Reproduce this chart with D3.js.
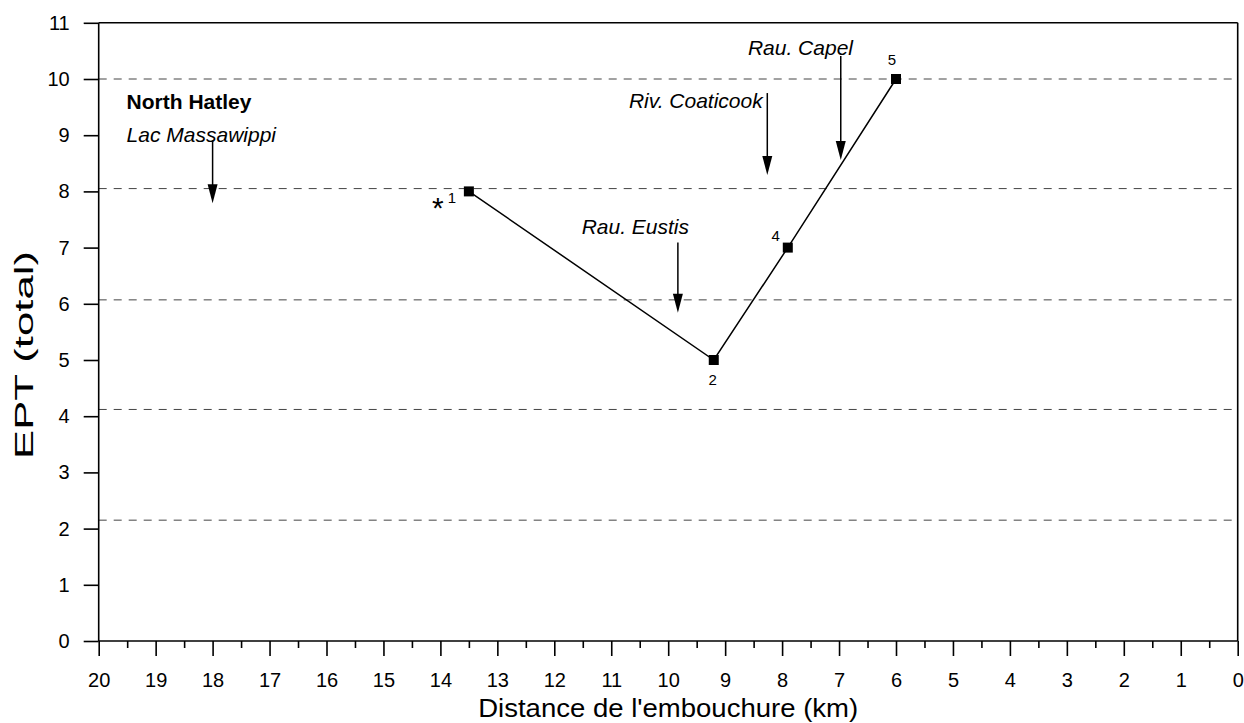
<!DOCTYPE html>
<html>
<head>
<meta charset="utf-8">
<script src="https://cdn.jsdelivr.net/npm/d3@7"></script>
<style>
  html, body { margin: 0; padding: 0; background: #fff; }
  svg { display: block; font-family: "Liberation Sans", Arial, Helvetica, sans-serif; }
</style>
</head>
<body>
<svg id="chart" width="1244" height="723"></svg>
<script>
// ---- data ----
const stations = ["1", "2", "4", "5"];
const distances = [13.5, 9.2, 7.9, 6.0];
const eptValues = [8, 5, 7, 10];

const xMajorTicks = d3.range(0, 21, 1);
const xMinorTicks = d3.range(0.5, 20, 1);
const yTicks = d3.range(0, 12, 1);
const gridValues = [10, 8.05, 6.07, 4.12, 2.15];

const tribNames = ["Lac Massawippi", "Rau. Eustis", "Riv. Coaticook", "Rau. Capel"];
const tribLabelX = [19.51, 11.52, 10.69, 8.60];
const tribLabelY = [8.88, 7.24, 9.48, 10.43];
const tribArrowX = [18.0, 9.83, 8.26, 6.97];
const tribArrowTop = [8.91, 7.09, 9.75, 10.41];
const tribArrowTip = [7.79, 5.84, 8.29, 8.56];

const townName = "North Hatley";
const townX = 19.51, townY = 9.46;

const xTitle = "Distance de l'embouchure (km)";
const yTitle = "EPT (total)";

// ---- scales ----
const svg = d3.select("#chart");
const x = d3.scaleLinear().domain([20, 0]).range([98.7, 1237.7]);
const y = d3.scaleLinear().domain([0, 11]).range([641, 22.8]);

// grid lines (dashed)
svg.append("g").selectAll("line").data(gridValues).join("line")
  .attr("x1", x(20)).attr("x2", x(0))
  .attr("y1", d => y(d)).attr("y2", d => y(d))
  .attr("stroke", "#444").attr("stroke-width", 1)
  .attr("stroke-dasharray", "8,7");

// axes
const xAxis = svg.append("g").attr("transform", `translate(0,${y(0)})`)
  .call(d3.axisBottom(x).tickValues(xMajorTicks).tickSize(15).tickSizeOuter(0)
    .tickPadding(17).tickFormat(d3.format("d")));
const xMinor = svg.append("g").attr("transform", `translate(0,${y(0)})`)
  .call(d3.axisBottom(x).tickValues(xMinorTicks).tickSize(7).tickSizeOuter(0).tickFormat(""));
const yAxis = svg.append("g").attr("transform", `translate(${x(20)},0)`)
  .call(d3.axisLeft(y).tickValues(yTicks).tickSize(15).tickSizeOuter(0)
    .tickPadding(14).tickFormat(d3.format("d")));

[xAxis, xMinor, yAxis].forEach(g => {
  g.select(".domain").remove();
  g.selectAll("line").attr("stroke", "#000").attr("stroke-width", 1.6);
  g.selectAll("text").attr("fill", "#000").style("font-size", "20px")
    .style("font-family", "'Liberation Sans', Arial, sans-serif");
});

// frame lines
const frame = svg.append("g").attr("stroke", "#000").attr("stroke-width", 1.6).attr("fill", "none");
frame.append("line").attr("x1", x(20)).attr("x2", x(0)).attr("y1", y(0)).attr("y2", y(0));
frame.append("line").attr("x1", x(20)).attr("x2", x(0)).attr("y1", y(11)).attr("y2", y(11));
frame.append("line").attr("x1", x(20)).attr("x2", x(20)).attr("y1", y(11)).attr("y2", y(0));
frame.append("line").attr("x1", x(0)).attr("x2", x(0)).attr("y1", y(11)).attr("y2", y(0));

// data line
const pts = distances.map((d, i) => ({ x: d, y: eptValues[i], s: stations[i] }));
svg.append("path").datum(pts)
  .attr("d", d3.line().x(d => x(d.x)).y(d => y(d.y)))
  .attr("fill", "none").attr("stroke", "#000").attr("stroke-width", 1.5);

svg.append("g").selectAll("rect").data(pts).join("rect")
  .attr("x", d => x(d.x) - 5).attr("y", d => y(d.y) - 5)
  .attr("width", 10).attr("height", 10).attr("fill", "#000");

// station labels (offsets in px)
const labOff = { "1": [-17, 12], "2": [-1, 25], "4": [-12, -7], "5": [-4, -14] };
svg.append("g").selectAll("text").data(pts).join("text")
  .attr("x", d => x(d.x) + labOff[d.s][0])
  .attr("y", d => y(d.y) + labOff[d.s][1])
  .attr("text-anchor", "middle")
  .style("font-size", "15px")
  .text(d => d.s);

// asterisk near station 1
svg.append("text")
  .attr("x", x(distances[0]) - 31).attr("y", y(eptValues[0]) + 27)
  .attr("text-anchor", "middle").style("font-size", "30px")
  .text("*");

// town label
svg.append("text").attr("x", x(townX)).attr("y", y(townY))
  .style("font-size", "21px").style("font-weight", "bold").text(townName);

// tributaries
const trib = tribNames.map((n, i) => ({
  n, lx: tribLabelX[i], ly: tribLabelY[i], ax: tribArrowX[i], at: tribArrowTop[i], ap: tribArrowTip[i]
}));
svg.append("g").selectAll("text").data(trib).join("text")
  .attr("x", d => x(d.lx)).attr("y", d => y(d.ly))
  .style("font-size", "21px").style("font-style", "italic")
  .text(d => d.n);
svg.append("g").selectAll("line").data(trib).join("line")
  .attr("x1", d => x(d.ax)).attr("x2", d => x(d.ax))
  .attr("y1", d => y(d.at)).attr("y2", d => y(d.ap) - 10)
  .attr("stroke", "#000").attr("stroke-width", 1.5);
svg.append("g").selectAll("path").data(trib).join("path")
  .attr("d", d => {
    const ax = x(d.ax), ty = y(d.ap);
    return `M${ax},${ty} L${ax - 5},${ty - 19} L${ax + 5},${ty - 19} Z`;
  })
  .attr("fill", "#000");

// axis titles
svg.append("text")
  .attr("x", (x(20) + x(0)) / 2).attr("y", 717)
  .attr("text-anchor", "middle")
  .style("font-size", "25px")
  .attr("textLength", 380).attr("lengthAdjust", "spacingAndGlyphs")
  .text(xTitle);

svg.append("text")
  .attr("transform", `translate(33,355) rotate(-90)`)
  .attr("text-anchor", "middle")
  .style("font-size", "25px")
  .attr("textLength", 208).attr("lengthAdjust", "spacingAndGlyphs")
  .text(yTitle);
</script>
</body>
</html>
